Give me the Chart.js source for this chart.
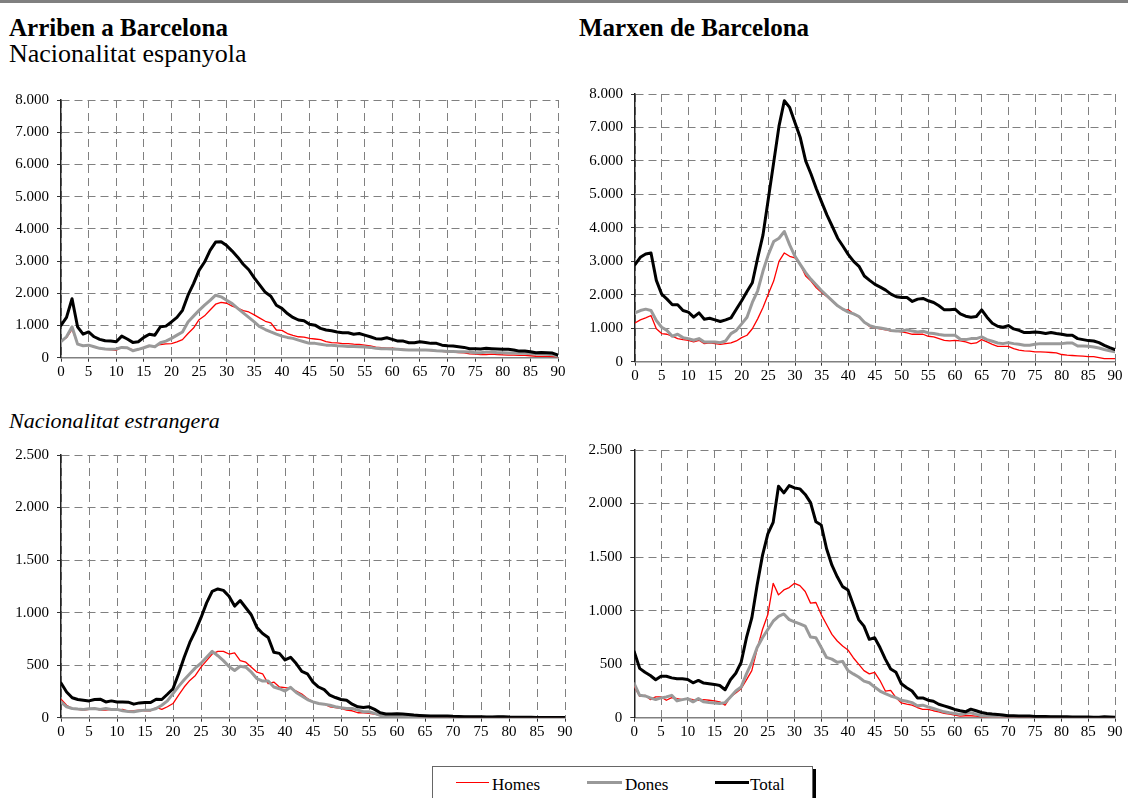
<!DOCTYPE html>
<html>
<head>
<meta charset="utf-8">
<script src="https://cdn.jsdelivr.net/npm/chart.js@4.4.1/dist/chart.umd.min.js"></script>
<style>
  html,body{margin:0;padding:0;background:#fff;}
  body{width:1128px;height:798px;position:relative;overflow:hidden;font-family:"Liberation Serif","Times New Roman",serif;color:#000;}
  .topline{position:absolute;left:0;top:0;width:1128px;height:3px;background:#808080;}
  .t{position:absolute;white-space:nowrap;}
  canvas{position:absolute;}
  .legend{position:absolute;left:432px;top:766px;width:379px;height:40px;border:1px solid #666;box-shadow:3px 3px 0 #000;background:#fff;}
  .sw{position:absolute;height:0;}
  .lt{position:absolute;font-size:17px;line-height:17px;top:9px;}
</style>
</head>
<body>
<div class="topline"></div>
<div class="t" style="left:9px;top:14.6px;font-size:25px;line-height:25px;font-weight:bold;">Arriben a Barcelona</div>
<div class="t" style="left:9px;top:40.7px;font-size:26px;line-height:26px;">Nacionalitat espanyola</div>
<div class="t" style="left:579px;top:15.1px;font-size:25px;line-height:25px;font-weight:bold;">Marxen de Barcelona</div>
<div class="t" style="left:9px;top:409.6px;font-size:22px;line-height:22px;font-style:italic;">Nacionalitat estrangera</div>

<canvas id="c1" width="575" height="307" style="left:0px;top:83px;"></canvas>
<canvas id="c2" width="553" height="313" style="left:575px;top:77px;"></canvas>
<canvas id="c3" width="580" height="317" style="left:0px;top:438px;"></canvas>
<canvas id="c4" width="553" height="322" style="left:575px;top:433px;"></canvas>

<div class="legend">
  <div class="sw" style="left:23px;top:15px;width:33px;border-top:1.5px solid #ff0000;"></div>
  <div class="lt" style="left:59px;">Homes</div>
  <div class="sw" style="left:154px;top:14px;width:35px;border-top:3px solid #999999;"></div>
  <div class="lt" style="left:192px;">Dones</div>
  <div class="sw" style="left:282px;top:14px;width:34px;border-top:3px solid #000;"></div>
  <div class="lt" style="left:317px;">Total</div>
</div>

<script>
// ---- categories (age) ----
const ages = [0,1,2,3,4,5,6,7,8,9,10,11,12,13,14,15,16,17,18,19,20,21,22,23,24,25,26,27,28,29,30,31,32,33,34,35,36,37,38,39,40,41,42,43,44,45,46,47,48,49,50,51,52,53,54,55,56,57,58,59,60,61,62,63,64,65,66,67,68,69,70,71,72,73,74,75,76,77,78,79,80,81,82,83,84,85,86,87,88,89,90];
const seriesNames = ["Homes","Dones","Total"];

// ---- Arriben a Barcelona - Nacionalitat espanyola ----
const arrEspHomes = [520,620,880,440,370,400,330,290,260,250,230,330,290,250,250,320,350,360,410,430,440,490,560,750,920,1180,1300,1480,1660,1720,1690,1600,1540,1460,1420,1330,1230,1130,1080,860,850,750,690,650,640,600,580,560,500,470,460,440,440,420,410,390,370,330,310,300,300,270,260,240,240,250,240,220,210,200,180,170,160,150,120,110,100,100,110,100,90,80,80,70,70,60,45,40,40,35,25];
const arrEspDones = [495,650,960,420,370,390,340,290,270,260,270,320,310,215,260,310,370,340,465,515,600,700,800,1110,1290,1470,1630,1780,1940,1890,1780,1680,1530,1390,1250,1110,960,875,800,730,670,630,600,545,495,445,445,420,390,390,370,360,350,350,340,330,320,290,280,280,270,260,250,240,240,240,240,230,215,205,195,195,185,185,175,155,155,175,175,155,155,145,145,135,135,125,115,115,105,95,50];
const arrEspTotal = [1000,1250,1830,960,730,800,650,570,525,515,495,670,580,475,495,630,730,700,960,980,1110,1250,1470,1940,2300,2710,2970,3330,3590,3600,3480,3310,3120,2900,2730,2480,2250,2030,1910,1630,1530,1370,1250,1170,1150,1040,1010,910,860,835,800,775,775,730,750,700,650,590,580,620,570,515,515,465,465,495,475,445,445,390,370,360,340,320,280,280,270,290,280,270,260,260,240,205,205,185,155,165,155,145,80];

// ---- Marxen de Barcelona - Nacionalitat espanyola ----
const marEspHomes = [1160,1250,1310,1380,985,840,820,760,690,660,640,590,640,540,560,540,520,540,560,620,720,790,985,1280,1620,2020,2410,3000,3250,3150,3100,2900,2560,2410,2210,2070,1940,1800,1670,1550,1550,1430,1330,1180,1050,1010,980,955,915,915,890,860,820,820,820,760,740,690,640,620,640,620,590,540,560,660,590,520,460,460,460,390,345,325,315,295,295,285,275,265,215,195,185,175,165,150,150,120,90,90,90];
const marEspDones = [1460,1530,1570,1530,1230,1030,935,760,820,720,690,640,690,590,590,590,570,620,840,935,1130,1330,1770,2120,2710,3200,3590,3690,3890,3490,3150,2900,2660,2460,2290,2120,1970,1820,1670,1570,1480,1430,1350,1180,1080,1030,1010,980,935,915,915,955,915,890,910,860,840,810,790,790,790,670,660,690,690,740,660,610,560,540,570,540,520,490,490,520,540,540,540,540,540,560,560,470,470,460,440,410,365,325,295];
const marEspTotal = [2900,3120,3220,3250,2430,2020,1870,1700,1700,1530,1480,1330,1460,1270,1300,1250,1200,1250,1310,1570,1820,2100,2360,3100,3790,4870,5950,7040,7800,7600,7140,6690,6000,5610,5170,4770,4380,4040,3690,3450,3200,3000,2850,2560,2430,2310,2230,2140,2020,1940,1920,1920,1800,1870,1890,1820,1770,1670,1550,1550,1570,1430,1360,1330,1350,1550,1330,1150,1060,1030,1080,980,935,870,870,890,870,840,870,840,820,790,790,690,660,630,620,570,490,420,365];

// ---- Arriben a Barcelona - Nacionalitat estrangera ----
const arrEstHomes = [176,119,88,79,72,79,88,72,72,79,72,79,63,66,72,66,66,97,79,104,135,214,292,355,402,481,543,606,631,631,606,616,543,528,481,433,418,324,339,292,286,280,254,225,182,151,135,129,104,97,88,72,66,47,47,41,35,22,16,16,16,15,14,12,11,10,9,8,8,7,6,6,5,5,4,4,4,4,4,5,4,3,3,2,2,2,2,1,1,1,1];
const arrEstDones = [150,104,88,82,79,85,88,79,88,79,79,66,60,57,66,72,72,88,119,160,229,298,361,418,474,518,575,631,590,543,487,449,490,481,433,371,349,349,292,276,254,289,240,206,173,151,135,129,119,104,94,88,88,72,57,57,41,22,19,16,16,15,14,12,11,10,9,8,8,7,7,6,6,5,5,5,4,4,4,4,3,3,3,3,2,2,2,2,2,1,1];
const arrEstTotal = [330,245,190,173,166,160,173,176,150,160,150,150,148,129,141,144,144,176,173,223,276,418,575,716,826,952,1093,1203,1225,1212,1156,1062,1115,1046,977,857,801,763,622,612,550,575,515,441,418,339,292,267,214,192,173,166,129,104,97,104,79,47,35,35,38,35,31,25,22,19,16,16,16,16,13,12,10,10,9,8,7,7,8,9,6,5,5,4,4,3,3,3,2,2,2];

// ---- Marxen de Barcelona - Nacionalitat estrangera ----
const marEstHomes = [290,200,209,169,194,194,163,188,178,169,178,169,163,169,163,157,148,117,194,231,271,354,440,640,824,963,1255,1147,1193,1215,1255,1233,1178,1070,1076,963,870,778,716,670,633,560,500,440,409,424,347,249,255,188,138,126,117,95,77,77,65,55,40,34,25,15,18,18,15,9,8,7,6,5,5,5,4,4,4,4,3,3,3,3,3,3,2,2,2,2,2,2,2,1,1];
const marEstDones = [317,209,203,185,169,185,194,209,157,169,178,148,178,148,141,138,132,141,194,249,286,409,517,655,747,824,901,947,969,916,895,876,855,753,747,655,563,547,517,526,440,409,380,341,326,286,249,224,203,188,163,154,141,111,117,101,86,71,55,46,40,31,40,46,31,18,15,12,10,9,8,7,6,7,6,5,5,4,4,4,3,3,3,3,2,2,2,2,3,2,2];
const marEstTotal = [615,461,424,394,354,387,387,372,363,363,357,326,348,323,317,311,301,261,354,415,517,747,932,1239,1516,1716,1824,2162,2100,2168,2146,2137,2085,2008,1830,1800,1578,1424,1316,1224,1193,1055,916,855,732,747,655,547,455,424,317,280,249,185,185,163,154,126,111,95,77,65,55,80,65,49,40,34,31,25,18,18,15,15,16,12,12,11,10,9,8,8,7,7,6,6,5,5,8,6,5];

// ---- y tick settings ----
const yMaxEsp = 8000, yStepEsp = 1000;
const yMaxEst = 2500, yStepEst = 500;

Chart.defaults.font.family = '"Liberation Serif", "Times New Roman", serif';
const tickFont = {family: '"Liberation Serif", "Times New Roman", serif', size: 15};
function fmt(v){ return String(v).replace(/\B(?=(\d{3})+(?!\d))/g, '.'); }
function pts(arr){ return arr.map((v,i)=>({x: ages[i], y: v})); }

function makeChart(id, box, ymax, ystep, homes, dones, total){
  new Chart(document.getElementById(id), {
    type: 'line',
    data: {
      datasets: [
        {label: seriesNames[0], data: pts(homes), borderColor:'#ff0000', borderWidth:1.3, order:3},
        {label: seriesNames[1], data: pts(dones), borderColor:'#9a9a9a', borderWidth:3, order:2},
        {label: seriesNames[2], data: pts(total), borderColor:'#000000', borderWidth:3, order:1}
      ]
    },
    options: {
      responsive:false, animation:false, devicePixelRatio:1,
      layout:{padding:{top:box.pt, right:box.pr, left:0, bottom:0}},
      plugins:{legend:{display:false}, tooltip:{enabled:false}},
      elements:{point:{radius:0}, line:{tension:0, borderJoinStyle:'round', borderCapStyle:'round'}},
      scales:{
        x:{type:'linear', min:0, max:90,
           ticks:{stepSize:5, font:tickFont, color:'#000', padding:1, maxRotation:0, autoSkip:false},
           grid:{color:'#808080', lineWidth:1, tickColor:'#333', tickLength:4, tickWidth:1},
           border:{dash:[8,5], color:'#808080', width:1.5},
           afterFit: s => { s.height = box.xh; }},
        y:{type:'linear', min:0, max:ymax,
           ticks:{stepSize:ystep, font:tickFont, color:'#000', padding:8, callback: v => fmt(v)},
           grid:{color:'#808080', lineWidth:1, tickColor:'#333', tickLength:4, tickWidth:1},
           border:{dash:[8,5], color:'#222', width:1.5},
           afterFit: s => { s.width = box.yw; }}
      }
    }
  });
}

function drawAll(){
  makeChart('c1', {yw:61,   pt:14,   pr:17, xh:32.3}, yMaxEsp, yStepEsp, arrEspHomes, arrEspDones, arrEspTotal);
  makeChart('c2', {yw:60,   pt:13.7, pr:13, xh:28.3}, yMaxEsp, yStepEsp, marEspHomes, marEspDones, marEspTotal);
  makeChart('c3', {yw:61,   pt:14.3, pr:15, xh:37.3}, yMaxEst, yStepEst, arrEstHomes, arrEstDones, arrEstTotal);
  makeChart('c4', {yw:59.3, pt:13.7, pr:13, xh:37.3}, yMaxEst, yStepEst, marEstHomes, marEstDones, marEstTotal);
}
if (document.fonts && document.fonts.load) {
  document.fonts.load('15px "Liberation Serif"').then(drawAll, drawAll);
} else { drawAll(); }
</script>
</body>
</html>
